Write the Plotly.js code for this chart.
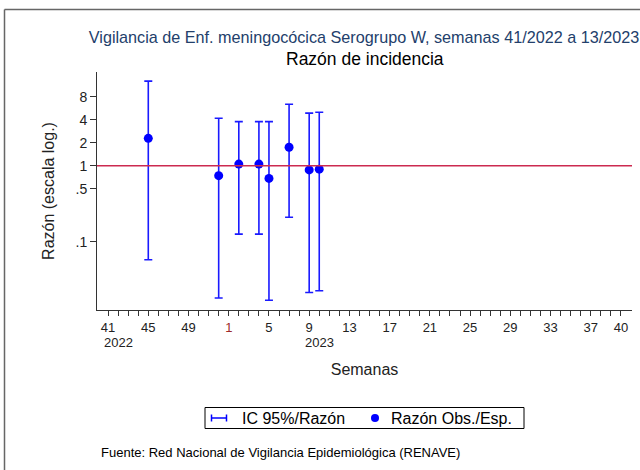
<!DOCTYPE html>
<html><head><meta charset="utf-8">
<script src="https://cdn.plot.ly/plotly-3.0.1.min.js"></script>
<style>html,body{margin:0;padding:0;background:#fff;} #chart{width:640px;height:470px;}</style>
</head><body><div id="chart"></div>
<script>
// Data (week / year of each observation)
const semanas = [45, 52, 2, 4, 5, 7, 9, 10];
const anios   = [2022, 2022, 2023, 2023, 2023, 2023, 2023, 2023];
const razon   = [2.29, 0.74, 1.05, 1.05, 0.68, 1.75, 0.88, 0.90];
const icSup   = [12.9, 4.2, 3.79, 3.79, 3.79, 6.42, 4.9, 5.04];
const icInf   = [0.058, 0.0183, 0.126, 0.126, 0.0171, 0.21, 0.0216, 0.0227];

// Axis tick labels
const tickSemanas = [41, 45, 49, 1, 5, 9, 13, 17, 21, 25, 29, 33, 37, 40];
const tickAnios   = [2022, 2022, 2022, 2023, 2023, 2023, 2023, 2023, 2023, 2023, 2023, 2023, 2023, 2023];
const anioTexto   = ["2022", "2023"];
const anioSemana  = [42, 10];
const anioAnio    = [2022, 2023];
const yTickVals   = [8, 4, 2, 1, 0.5, 0.1];
const yTickText   = ["8", "4", "2", "1", ".5", ".1"];

const W0 = 41, Y0 = 2022;
function idx(w, y) { return (y - Y0) * 52 + w - W0; }

const xs = semanas.map((w, i) => idx(w, anios[i]));
const errUp = razon.map((v, i) => icSup[i] - v);
const errDn = razon.map((v, i) => v - icInf[i]);

// all weekly ticks, labelled every 4 weeks
const lastIdx = idx(40, 2023);
const tickvals = [], ticktext = [];
const labelMap = {};
tickSemanas.forEach((w, i) => {
  const k = idx(w, tickAnios[i]);
  labelMap[k] = (w === 1) ? '<span style="color:#9e2a2b">' + w + '</span>' : String(w);
});
for (let k = 0; k <= lastIdx; k++) { tickvals.push(k); ticktext.push(labelMap[k] || ""); }

// pixel -> paper helpers
const L = 97, R = 8, T = 72, B = 160, PW = 640 - L - R, PH = 470 - T - B;
const px = p => (p - L) / PW;
const py = p => (470 - B - p) / PH;

const FONT = "Liberation Sans, Arial, sans-serif";
const blue = "#0000ff";

const traces = [{
  type: "scatter", mode: "markers", x: xs, y: razon,
  marker: { color: blue, size: 9 },
  error_y: { type: "data", symmetric: false, array: errUp, arrayminus: errDn,
             color: "#1a1aff", thickness: 1.6, width: 4 },
  showlegend: false, hoverinfo: "x+y"
}];

const shapes = [
  // reference line at 1
  { type: "line", xref: "paper", x0: 0, x1: 1, yref: "y", y0: 1, y1: 1,
    line: { color: "#cc2a50", width: 1.5 } },
  // outer frame (left and top)
  { type: "line", xref: "paper", yref: "paper", x0: px(4.5), x1: px(4.5), y0: py(9.5), y1: py(471),
    line: { color: "#666", width: 1.5 } },
  { type: "line", xref: "paper", yref: "paper", x0: px(4.5), x1: px(641), y0: py(9.5), y1: py(9.5),
    line: { color: "#666", width: 1.5 } },
  // legend box
  { type: "rect", xref: "paper", yref: "paper", x0: px(205), x1: px(524), y0: py(428.5), y1: py(407.5),
    line: { color: "#000", width: 1 }, fillcolor: "rgba(0,0,0,0)" },
  // legend CI symbol
  { type: "line", xref: "paper", yref: "paper", x0: px(211.5), x1: px(226.5), y0: py(418), y1: py(418),
    line: { color: blue, width: 1.5 } },
  { type: "line", xref: "paper", yref: "paper", x0: px(211.5), x1: px(211.5), y0: py(414.5), y1: py(421.5),
    line: { color: blue, width: 1.5 } },
  { type: "line", xref: "paper", yref: "paper", x0: px(226.5), x1: px(226.5), y0: py(414.5), y1: py(421.5),
    line: { color: blue, width: 1.5 } },
  // legend dot
  { type: "circle", xref: "paper", yref: "paper", x0: px(371), x1: px(379), y0: py(422), y1: py(414),
    line: { color: blue, width: 0 }, fillcolor: blue }
];

const annotations = [
  { text: "Razón de incidencia", xref: "paper", yref: "paper", x: px(365), y: py(59),
    xanchor: "center", yanchor: "middle", showarrow: false, font: { family: FONT, size: 17.5, color: "#000" } },
  { text: "IC 95%/Razón", xref: "paper", yref: "paper", x: px(240), y: py(418),
    xanchor: "left", yanchor: "middle", showarrow: false, font: { family: FONT, size: 16, color: "#000" } },
  { text: "Razón Obs./Esp.", xref: "paper", yref: "paper", x: px(388.5), y: py(418),
    xanchor: "left", yanchor: "middle", showarrow: false, font: { family: FONT, size: 16, color: "#000" } },
  { text: "Fuente: Red Nacional de Vigilancia Epidemiológica (RENAVE)", xref: "paper", yref: "paper",
    x: px(99), y: py(452), xanchor: "left", yanchor: "middle", showarrow: false,
    font: { family: FONT, size: 13, color: "#000" } }
];
anioTexto.forEach((t, i) => {
  annotations.push({ text: t, xref: "x", yref: "paper", x: idx(anioSemana[i], anioAnio[i]), y: py(342),
    xanchor: "center", yanchor: "middle", showarrow: false, font: { family: FONT, size: 13, color: "#222" } });
});

const layout = {
  width: 640, height: 470,
  margin: { l: L, r: R, t: T, b: B },
  paper_bgcolor: "#fff", plot_bgcolor: "#fff",
  font: { family: FONT, color: "#222" },
  showlegend: false,
  title: { text: "Vigilancia de Enf. meningocócica Serogrupo W, semanas 41/2022 a 13/2023",
           font: { family: FONT, size: 16.2, color: "#23406b" },
           x: 364 / 640, xanchor: "center", xref: "container", y: 1 - 37 / 470, yanchor: "middle", yref: "container" },
  xaxis: {
    range: [-1.1, 52.1], tickmode: "array", tickvals: tickvals, ticktext: ticktext,
    ticks: "outside", ticklen: 5, tickwidth: 1, tickcolor: "#333",
    showline: true, linecolor: "#333", linewidth: 1, showgrid: false, zeroline: false,
    tickfont: { family: FONT, size: 13, color: "#222" },
    title: { text: "Semanas", font: { family: FONT, size: 16, color: "#222" }, standoff: 30 }
  },
  yaxis: {
    type: "log", range: [-1.896, 1.231], tickmode: "array", tickvals: yTickVals, ticktext: yTickText,
    ticks: "outside", ticklen: 6, tickwidth: 1, tickcolor: "#333",
    showline: true, linecolor: "#333", linewidth: 1, showgrid: false, zeroline: false,
    tickfont: { family: FONT, size: 14, color: "#222" },
    title: { text: "Razón (escala log.)", font: { family: FONT, size: 16, color: "#222" }, standoff: 16 }
  },
  shapes: shapes, annotations: annotations
};

Plotly.newPlot("chart", traces, layout, { displayModeBar: false, staticPlot: true });
</script></body></html>
